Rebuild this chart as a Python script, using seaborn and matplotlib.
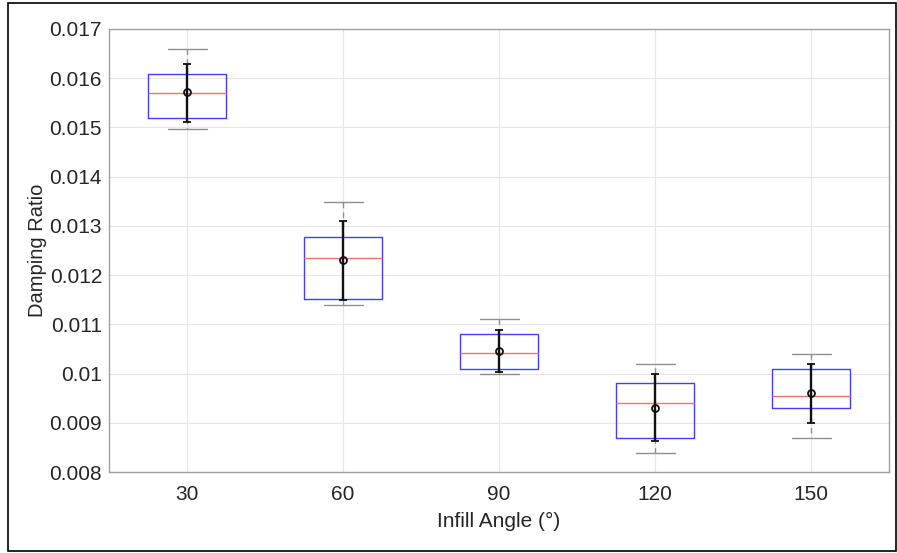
import numpy as np
import pandas as pd
import seaborn as sns
import matplotlib.pyplot as plt
from matplotlib.patches import Rectangle
from matplotlib.ticker import FuncFormatter

# five-number summary for each infill angle
angles = ["30", "60", "90", "120", "150"]
whisker_low = [0.01497, 0.01139, 0.01000, 0.00839, 0.00869]
q1 = [0.01520, 0.01151, 0.01009, 0.00869, 0.00930]
median = [0.01570, 0.01234, 0.01041, 0.00940, 0.00954]
q3 = [0.01609, 0.01278, 0.01080, 0.00980, 0.01009]
whisker_high = [0.01659, 0.01349, 0.01110, 0.01019, 0.01039]

# mean +/- error bars
mean = [0.01571, 0.01230, 0.01045, 0.00930, 0.00960]
err_low = [0.01511, 0.01150, 0.01003, 0.00863, 0.00899]
err_high = [0.01629, 0.01309, 0.01088, 0.00999, 0.01019]

yticks = [0.008, 0.009, 0.010, 0.011, 0.012, 0.013, 0.014, 0.015, 0.016, 0.017]

# long-form table: the five values per group give exactly these quartiles
rows = []
for i, a in enumerate(angles):
    for v in (whisker_low[i], q1[i], median[i], q3[i], whisker_high[i]):
        rows.append({"Infill Angle": a, "Damping Ratio": v})
df = pd.DataFrame(rows)

sns.set_style("whitegrid")
plt.rcParams["font.family"] = ["Liberation Sans", "DejaVu Sans"]

fig = plt.figure(figsize=(8.97, 5.53), dpi=100)
ax = fig.add_axes([109 / 897, 1 - 472 / 553, (889 - 109) / 897, (472 - 29) / 553])

sns.boxplot(
    data=df, x="Infill Angle", y="Damping Ratio", order=angles,
    fill=False, width=0.5, whis=1.5, linewidth=1.0, ax=ax,
    boxprops={"color": "#4040ff"},
    medianprops={"color": "#ff7070"},
    whiskerprops={"color": "#909090", "linestyle": (0, (4, 3))},
    capprops={"color": "#909090"},
)

ax.errorbar(
    np.arange(len(angles)), mean,
    yerr=[np.array(mean) - np.array(err_low), np.array(err_high) - np.array(mean)],
    fmt="o", color="#111111", mfc="none", mec="#111111", ms=5, mew=1.3,
    elinewidth=1.7, capsize=3, capthick=1.2, zorder=5,
)

ax.set_xlim(-0.5, 4.5)
ax.set_ylim(0.008, 0.017)
ax.set_yticks(yticks)
ax.yaxis.set_major_formatter(FuncFormatter(lambda v, p: "%g" % round(v, 4)))
ax.set_xlabel("Infill Angle (°)", fontsize=15, color="#262626", labelpad=6)
ax.set_ylabel("Damping Ratio", fontsize=14.5, color="#262626", labelpad=2)
ax.tick_params(axis="both", labelsize=15, colors="#262626", direction="in",
               length=4, width=0.8)
ax.tick_params(axis="x", pad=9)
ax.tick_params(axis="y", pad=5)
ax.tick_params(axis="both", color="#909090")
ax.grid(True, color="#e6e6e6", linewidth=0.8)
ax.set_axisbelow(True)
for s in ax.spines.values():
    s.set_color("#a0a0a0")
    s.set_linewidth(1.0)

# outer frame of the figure
fig.patches.append(Rectangle((8 / 897, 2 / 553), 888 / 897, 548 / 553,
                             transform=fig.transFigure, fill=False,
                             edgecolor="black", linewidth=1.2))

fig.savefig("out.png", dpi=100)
